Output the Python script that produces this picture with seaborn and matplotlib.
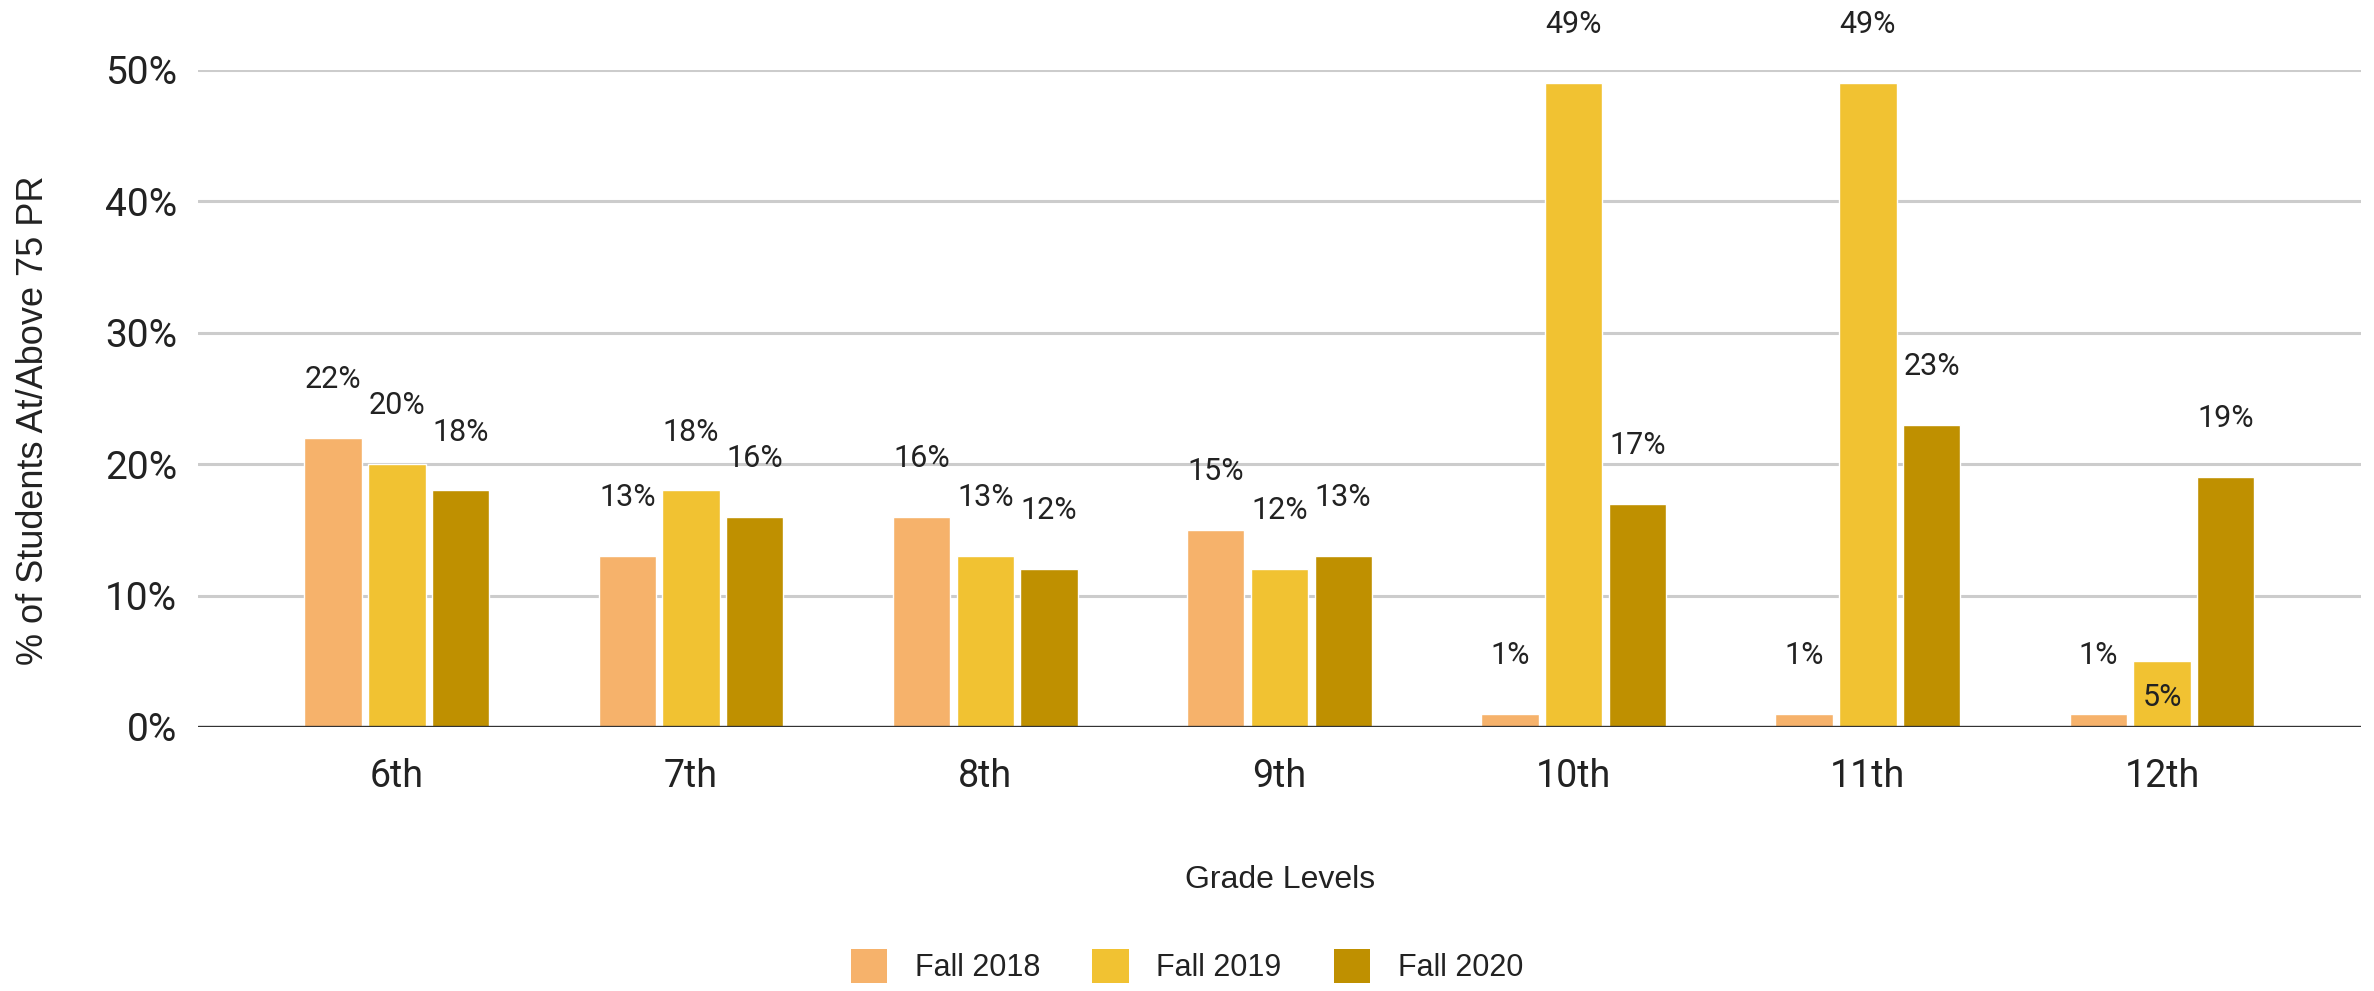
import matplotlib
matplotlib.use("Agg")
import matplotlib.pyplot as plt
from matplotlib.patches import Patch
import seaborn as sns
import pandas as pd

grades = ["6th", "7th", "8th", "9th", "10th", "11th", "12th"]
seasons = ["Fall 2018", "Fall 2019", "Fall 2020"]
fall_2018 = [22, 13, 16, 15, 1, 1, 1]
fall_2019 = [20, 18, 13, 12, 49, 49, 5]
fall_2020 = [18, 16, 12, 13, 17, 23, 19]
colors = ["#F6B26B", "#F1C232", "#BF9000"]

df = pd.DataFrame({
    "grade": grades * 3,
    "season": [s for s in seasons for _ in grades],
    "pct": fall_2018 + fall_2019 + fall_2020,
})

sns.set_theme(style="white")
plt.rcParams["font.family"] = ["Roboto", "DejaVu Sans"]
text_color = "#222222"

fig = plt.figure(figsize=(23.74, 9.91), dpi=100)
ax = fig.add_axes([0.0834, 0.2664, 0.9111, 0.6630])

sns.barplot(data=df, x="grade", y="pct", hue="season", order=grades,
            hue_order=seasons, palette=colors, width=0.65, gap=0.1,
            saturation=1, legend=False, ax=ax)

ax.set_ylim(0, 50)
ax.set_xlim(-0.676, 6.676)
ax.set_yticks([0, 10, 20, 30, 40, 50])
ax.set_yticklabels([f"{t}%" for t in [0, 10, 20, 30, 40, 50]])
ax.yaxis.grid(True, color="#cccccc", linewidth=2.2)
ax.set_axisbelow(True)
ax.axhline(0, color="#333333", linewidth=2.4, zorder=5)
for s in ax.spines.values():
    s.set_visible(False)
ax.tick_params(axis="y", length=0, pad=15, labelsize=28, labelcolor=text_color)
ax.tick_params(axis="x", length=0, pad=22, labelsize=27, labelcolor=text_color)
ax.set_xlabel("")
ax.set_ylabel("")

# value labels, one container per season
for i, cont in enumerate(ax.containers):
    for j, bar in enumerate(cont):
        val = bar.get_height()
        dy = 42
        if grades[j] == "12th" and seasons[i] == "Fall 2019":
            dy = -26
        ax.annotate(f"{val:.0f}%", (bar.get_x() + bar.get_width() / 2, val),
                    xytext=(0, dy), textcoords="offset points",
                    ha="center", va="center", fontsize=22, color=text_color,
                    annotation_clip=False)

fig.text(0.0143, 0.576, "% of Students At/Above 75 PR", rotation=90,
         ha="center", va="center", fontsize=26, color=text_color,
         family="Liberation Sans")
fig.text(0.539, 0.112, "Grade Levels", ha="center", va="center",
         fontsize=23, color=text_color, family="Liberation Sans")

handles = [Patch(facecolor=c, edgecolor="none") for c in colors]
fig.legend(handles, seasons, loc="center", bbox_to_anchor=(0.5, 0.025),
           ncol=3, frameon=False, handlelength=1.2, handleheight=1.35,
           handletextpad=0.9, columnspacing=1.7,
           prop={"family": "Liberation Sans", "size": 22},
           labelcolor=text_color)

fig.savefig("out.png", dpi=100, facecolor="white")
